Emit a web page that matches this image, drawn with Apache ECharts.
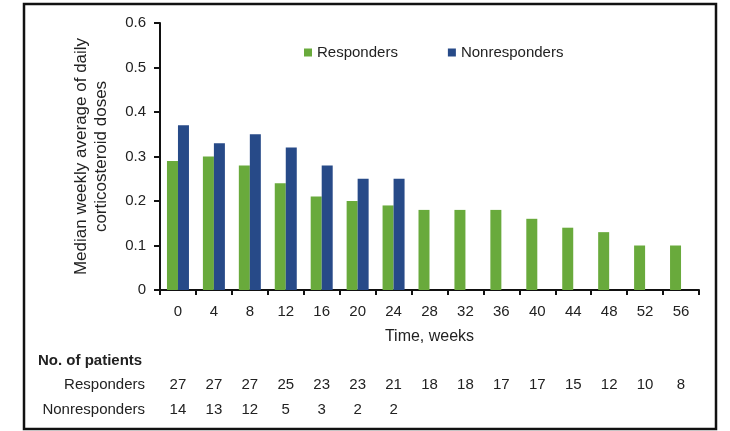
<!DOCTYPE html>
<html>
<head>
<meta charset="utf-8">
<script src="https://cdn.jsdelivr.net/npm/echarts@6/dist/echarts.min.js"></script>
<style>
  html, body { margin: 0; padding: 0; background: #fff; }
  #chart { width: 730px; height: 431px; }
</style>
</head>
<body>
<div id="chart"></div>
<script>
// Weeks since start of therapy
const weeks = ['0', '4', '8', '12', '16', '20', '24', '28', '32', '36', '40', '44', '48', '52', '56'];
// Median weekly average of daily corticosteroid doses
const responders = [0.29, 0.30, 0.28, 0.24, 0.21, 0.20, 0.19, 0.18, 0.18, 0.18, 0.16, 0.14, 0.13, 0.10, 0.10];
const nonresponders = [0.37, 0.33, 0.35, 0.32, 0.28, 0.25, 0.25, null, null, null, null, null, null, null, null];
// Number of patients at each time point
const respondersN = ['27', '27', '27', '25', '23', '23', '21', '18', '18', '17', '17', '15', '12', '10', '8'];
const nonrespondersN = ['14', '13', '12', '5', '3', '2', '2', '', '', '', '', '', '', '', ''];
const yTicks = [0, 0.1, 0.2, 0.3, 0.4, 0.5, 0.6];

const GREEN = '#69aa3c';
const BLUE = '#274a88';
const FONT = '"Liberation Sans", Arial, Helvetica, sans-serif';
const INK = '#222';

const chart = echarts.init(document.getElementById('chart'));

// Extra category axes used as the patient-count rows under the plot
function countAxis(values, name, offset) {
  return {
    type: 'category',
    gridIndex: 0,
    position: 'bottom',
    offset: offset,
    data: values,
    axisLine: { show: false },
    axisTick: { show: false },
    axisLabel: {
      interval: 0, margin: 0, verticalAlign: 'middle',
      fontFamily: FONT, fontSize: 15, color: INK
    },
    name: name,
    nameLocation: 'start',
    nameGap: 15,
    nameTextStyle: { fontFamily: FONT, fontSize: 15, color: INK, verticalAlign: 'middle' }
  };
}

chart.setOption({
  animation: false,
  backgroundColor: '#fff',
  textStyle: { fontFamily: FONT },
  grid: { left: 160, right: 31, top: 23, bottom: 141, containLabel: false },
  legend: {
    left: 299,
    top: 40,
    icon: 'rect',
    itemWidth: 8,
    itemHeight: 8,
    itemGap: 50,
    textStyle: { fontFamily: FONT, fontSize: 15, color: INK },
    data: ['Responders', 'Nonresponders']
  },
  graphic: [
    {
      type: 'rect',
      silent: true,
      shape: { x: 24, y: 4, width: 692, height: 425 },
      style: { fill: 'none', stroke: '#111', lineWidth: 2.5 }
    },
    {
      type: 'text',
      left: 38,
      top: 353,
      style: { text: 'No. of patients', font: 'bold 15px ' + FONT, fill: INK }
    }
  ],
  xAxis: [
    {
      type: 'category',
      data: weeks,
      boundaryGap: true,
      axisLine: { lineStyle: { color: '#111', width: 2 } },
      axisTick: { show: true, length: 5, lineStyle: { color: '#111', width: 2 } },
      axisLabel: { interval: 0, margin: 14, fontFamily: FONT, fontSize: 15, color: INK },
      name: 'Time, weeks',
      nameLocation: 'middle',
      nameGap: 39,
      nameTextStyle: { fontFamily: FONT, fontSize: 16, color: INK }
    },
    countAxis(respondersN, 'Responders', 95),
    countAxis(nonrespondersN, 'Nonresponders', 120)
  ],
  yAxis: {
    type: 'value',
    min: yTicks[0],
    max: yTicks[yTicks.length - 1],
    interval: 0.1,
    splitLine: { show: false },
    axisLine: { show: true, lineStyle: { color: '#111', width: 2 } },
    axisTick: { show: true, length: 6, lineStyle: { color: '#111', width: 2 } },
    axisLabel: {
      margin: 14, fontFamily: FONT, fontSize: 15, color: INK,
      formatter: v => (v === 0 ? '0' : v.toFixed(1))
    },
    name: 'Median weekly average of daily\ncorticosteroid doses',
    nameLocation: 'middle',
    nameGap: 49,
    nameTextStyle: { fontFamily: FONT, fontSize: 17, color: INK, lineHeight: 20 }
  },
  series: [
    {
      name: 'Responders',
      type: 'bar',
      data: responders,
      barWidth: 11,
      barGap: '0%',
      itemStyle: { color: GREEN }
    },
    {
      name: 'Nonresponders',
      type: 'bar',
      data: nonresponders,
      barWidth: 11,
      barGap: '0%',
      itemStyle: { color: BLUE }
    }
  ]
});
</script>
</body>
</html>
